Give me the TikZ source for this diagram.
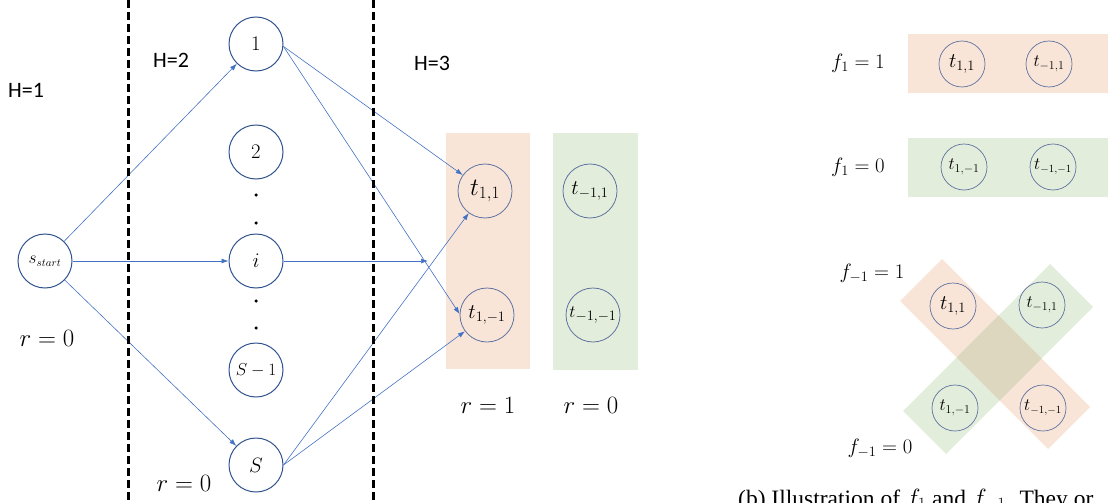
\documentclass[tikz,border=0pt]{standalone}
\usepackage{fontspec}
\setmainfont{Liberation Serif}
\newfontfamily\labfont{Carlito}
\usetikzlibrary{arrows.meta}
\definecolor{arrowblue}{RGB}{68,114,196}
\definecolor{circblue}{RGB}{47,82,143}
\definecolor{tcirc}{RGB}{95,115,160}
\definecolor{peach}{RGB}{248,229,216}
\definecolor{mint}{RGB}{227,237,219}
\definecolor{olive}{RGB}{220,215,190}
\begin{document}
\begin{tikzpicture}[x=1pt,y=-1pt,
  state/.style={circle,draw=circblue,line width=1pt,minimum size=54pt,inner sep=0pt,font=\fontsize{21}{21}\selectfont},
  tnode/.style={circle,draw=tcirc,line width=0.8pt,minimum size=54pt,inner sep=0pt,font=\fontsize{23}{23}\selectfont},
  tsmall/.style={circle,draw=tcirc,line width=0.7pt,minimum size=46pt,inner sep=0pt,font=\fontsize{20}{20}\selectfont},
  dotnode/.style={circle,fill=black,minimum size=3.5pt,inner sep=0pt},
  edge/.style={draw=arrowblue,line width=0.6pt,-{Latex[length=7pt,width=5pt]}},
  divider/.style={line width=3pt,dash pattern=on 8pt off 4pt},
  hlabel/.style={font=\labfont\fontsize{22}{22}\selectfont},
  mlabel/.style={font=\fontsize{23}{23}\selectfont},
  flabel/.style={font=\fontsize{20}{20}\selectfont}
]
\useasboundingbox (0,0) rectangle (1108,503);
\clip (0,0) rectangle (1108,503);

% background boxes, left panel
\fill[peach] (446,133) rectangle (530,369);
\fill[mint] (553,133) rectangle (638,370);

% right panel boxes
\fill[peach] (908,34) rectangle (1108,93);
\fill[mint] (908,138) rectangle (1108,197);

% X shape
\fill[peach] (942,259) -- (1090,407) -- (1048,449) -- (900,301) -- cycle;
\fill[mint] (1050,264) -- (1093,307) -- (946,454) -- (903,411) -- cycle;
\begin{scope}
  \clip (942,259) -- (1090,407) -- (1048,449) -- (900,301) -- cycle;
  \fill[olive] (1050,264) -- (1093,307) -- (946,454) -- (903,411) -- cycle;
\end{scope}

% left panel nodes
\node[state,font=\fontsize{16}{16}\selectfont] (s) at (45,261) {$s_{start}$};
\node[state] (n1) at (256,44) {$1$};
\node[state] (n2) at (256,152) {$2$};
\node[state] (ni) at (256,261) {$i$};
\node[state,font=\fontsize{17}{17}\selectfont] (nSm) at (256,370) {$S-1$};
\node[state] (nS) at (256,465) {$S$};
\node[dotnode] (dot1) at (256,195) {};
\node[dotnode] (dot2) at (256,223) {};
\node[dotnode] (dot3) at (256,301) {};
\node[dotnode] (dot4) at (256,328) {};

\node[tnode] (t11) at (485,191) {$t_{1,1}$};
\node[tnode,font=\fontsize{22}{22}\selectfont] (t1m) at (487,315) {$t_{1,-1}$};
\node[tnode,font=\fontsize{22}{22}\selectfont] (tm1) at (590,191) {$t_{-1,1}$};
\node[tnode,font=\fontsize{19}{19}\selectfont] (tmm) at (593,315) {$t_{-1,-1}$};

% labels
\node[hlabel] (h1) at (26,90) {H=1};
\node[hlabel] (h2) at (171,60) {H=2};
\node[hlabel] (h3) at (432,63) {H=3};
\node[mlabel] (r0a) at (47,338) {$r=0$};
\node[mlabel] (r0b) at (184,483) {$r=0$};
\node[mlabel] (r1) at (488,405) {$r=1$};
\node[mlabel] (r0c) at (591,405) {$r=0$};

% edges
\coordinate (iend) at (428,261);
\draw[edge] (s) -- (n1);
\draw[edge] (s) -- (ni);
\draw[edge] (s) -- (nS);
\draw[edge] (n1.-5) -- (t11);
\draw[edge] (n1.-5) -- (t1m.178);
\draw[edge] (ni) -- (iend);
\draw[edge] (nS.east) -- (t11);
\draw[edge] (nS.east) -- (t1m);

% dividers
\coordinate (da1) at (128,0);
\coordinate (da2) at (128,503);
\coordinate (db1) at (373,0);
\coordinate (db2) at (373,503);
\draw[divider] (da1) -- (da2);
\draw[divider] (db1) -- (db2);

% right panel
\node[flabel] (f1a) at (858,63) {$f_1=1$};
\node[flabel] (f1b) at (858,167) {$f_1=0$};
\node[tsmall] (r11) at (962,64) {$t_{1,1}$};
\node[tsmall,font=\fontsize{18}{18}\selectfont] (rm1) at (1049,64) {$t_{-1,1}$};
\node[tsmall,font=\fontsize{18}{18}\selectfont] (r1m) at (964,167) {$t_{1,-1}$};
\node[tsmall,font=\fontsize{16}{16}\selectfont] (rmm) at (1053,167) {$t_{-1,-1}$};

\node[flabel] (fm1a) at (872,273) {$f_{-1}=1$};
\node[flabel] (fm1b) at (880,448) {$f_{-1}=0$};
\node[tsmall] (x11) at (953,306) {$t_{1,1}$};
\node[tsmall,font=\fontsize{18}{18}\selectfont] (xm1) at (1042,305) {$t_{-1,1}$};
\node[tsmall,font=\fontsize{18}{18}\selectfont] (x1m) at (955,408) {$t_{1,-1}$};
\node[tsmall,font=\fontsize{16}{16}\selectfont] (xmm) at (1043,408) {$t_{-1,-1}$};

\node[anchor=base west,inner sep=0pt,font=\fontsize{23.5}{24}\selectfont] (cap) at (738,506) {(b) Illustration of $f_1$ and $f_{-1}$. They or};
\end{tikzpicture}
\end{document}
